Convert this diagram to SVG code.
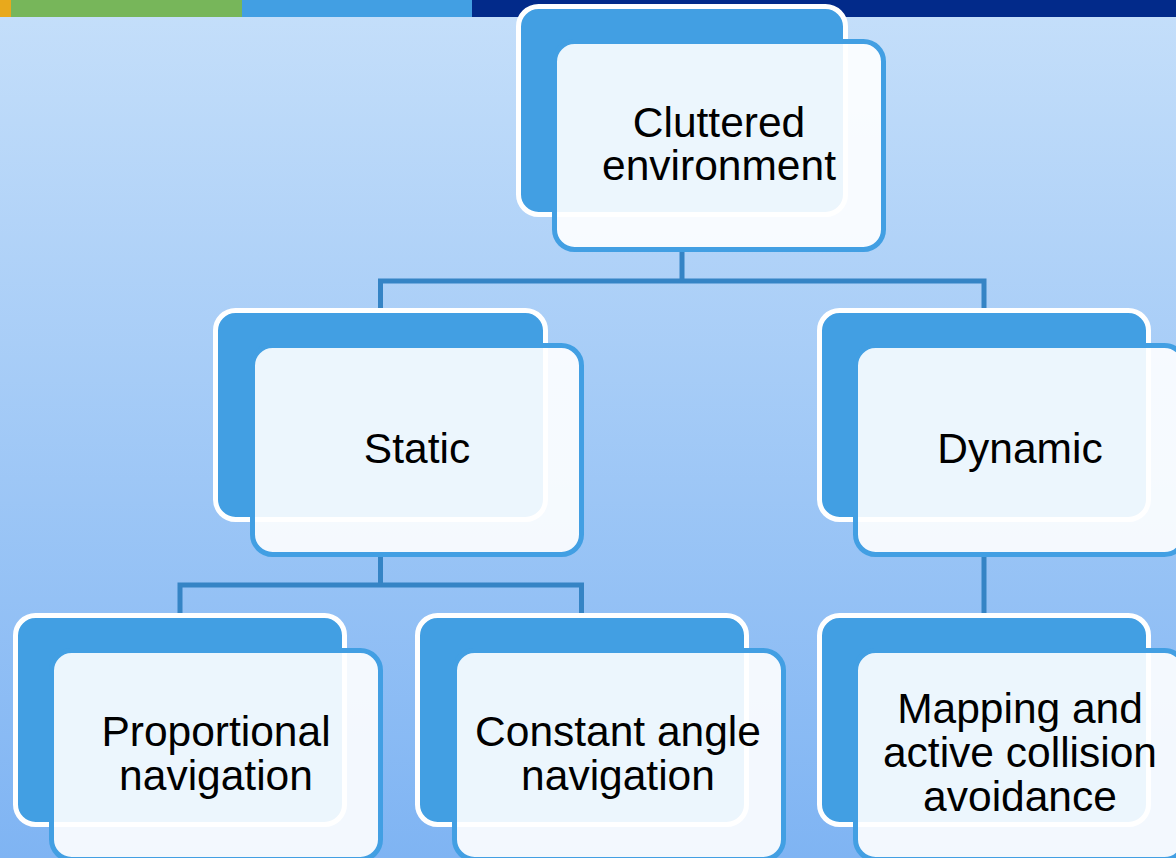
<svg xmlns="http://www.w3.org/2000/svg" width="1176" height="858" viewBox="0 0 1176 858">
  <defs>
    <linearGradient id="bg" x1="0" y1="0" x2="0" y2="1">
      <stop offset="0" stop-color="#c5dffa"/>
      <stop offset="1" stop-color="#7fb4f3"/>
    </linearGradient>
  </defs>
  <style>
    .back { fill: #429fe3; stroke: #ffffff; stroke-width: 5; }
    .front { fill: #ffffff; fill-opacity: 0.9; stroke: #429fe3; stroke-width: 5; }
    .label { font-family: "Liberation Sans", Arial, sans-serif; font-size: 42.5px; fill: #000000; text-anchor: middle; }
    .link { fill: none; stroke: #3584c5; stroke-width: 5; stroke-linejoin: miter; }
  </style>

  <!-- background and header stripe -->
  <rect x="0" y="0" width="1176" height="858" fill="url(#bg)"/>
  <rect x="0" y="0" width="11" height="17" fill="#e8a91c"/>
  <rect x="11" y="0" width="231" height="17" fill="#77b65a"/>
  <rect x="242" y="0" width="230" height="17" fill="#429fe3"/>
  <rect x="472" y="0" width="704" height="17" fill="#022a8a"/>

  <!-- tree connectors -->
  <g id="connectors">
    <path class="link" d="M682,250 V281 M380.5,281 H984 M380.5,278.5 V312 M984,278.5 V312"/>
    <path class="link" d="M380.5,555 V585 M180,585 H581.5 M180,582.5 V617 M581.5,582.5 V617"/>
    <path class="link" d="M984,555 V617"/>
  </g>

  <g id="node-cluttered">
    <rect class="back" x="518.5" y="6.5" width="327" height="208" rx="20"/>
    <rect class="front" x="554.5" y="41.5" width="329" height="208" rx="20"/>
    <text class="label" x="719" y="137">Cluttered</text>
    <text class="label" x="719" y="180">environment</text>
  </g>

  <g id="node-static">
    <rect class="back" x="215.5" y="310.5" width="330" height="209" rx="20"/>
    <rect class="front" x="252.5" y="345.5" width="329" height="209" rx="20"/>
    <text class="label" x="417" y="463">Static</text>
  </g>

  <g id="node-dynamic">
    <rect class="back" x="819.5" y="310.5" width="329" height="209" rx="20"/>
    <rect class="front" x="855.5" y="345.5" width="329" height="209" rx="20"/>
    <text class="label" x="1020" y="463">Dynamic</text>
  </g>

  <g id="node-proportional">
    <rect class="back" x="15.5" y="615.5" width="329" height="209" rx="20"/>
    <rect class="front" x="51.5" y="650.5" width="329" height="209" rx="20"/>
    <text class="label" x="216" y="746">Proportional</text>
    <text class="label" x="216" y="790">navigation</text>
  </g>

  <g id="node-constant">
    <rect class="back" x="417.5" y="615.5" width="329" height="209" rx="20"/>
    <rect class="front" x="454.5" y="650.5" width="329" height="209" rx="20"/>
    <text class="label" x="618" y="746">Constant angle</text>
    <text class="label" x="618" y="790">navigation</text>
  </g>

  <g id="node-mapping">
    <rect class="back" x="819.5" y="615.5" width="329" height="209" rx="20"/>
    <rect class="front" x="855.5" y="650.5" width="329" height="209" rx="20"/>
    <text class="label" x="1020" y="723">Mapping and</text>
    <text class="label" x="1020" y="767">active collision</text>
    <text class="label" x="1020" y="811">avoidance</text>
  </g>
</svg>
